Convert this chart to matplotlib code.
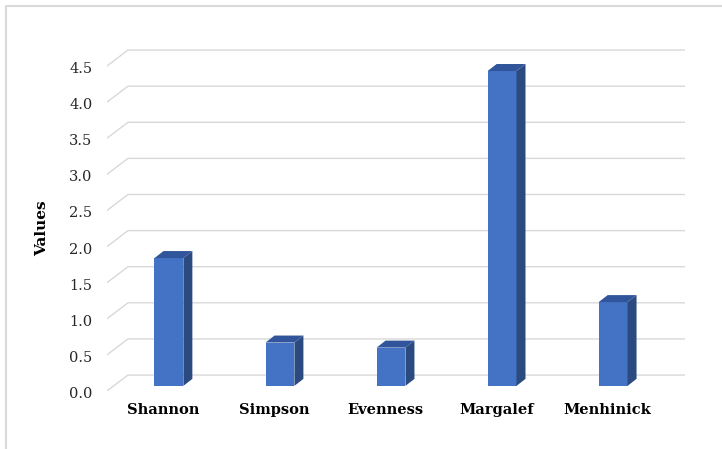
import numpy as np
import matplotlib.pyplot as plt
from matplotlib.patches import Polygon
from matplotlib.lines import Line2D

# data
categories = ['Shannon', 'Simpson', 'Evenness', 'Margalef', 'Menhinick']
values = [1.77, 0.60, 0.53, 4.36, 1.16]
ticks = [0.0, 0.5, 1.0, 1.5, 2.0, 2.5, 3.0, 3.5, 4.0, 4.5]

fig = plt.figure(figsize=(7.22, 4.49), dpi=100)
ax = fig.add_axes([0.148, 0.129, 0.801, 0.782])
ax.set_xlim(-0.559, 4.649)
ax.set_ylim(-0.222, 4.64)
ax.axis('off')

# fake 3d wall: gridlines with a slanted left end
front_off = 0.222
for t in ticks:
    ax.plot([-0.559, -0.369, 4.649], [t - front_off, t, t],
            color='#d9d9d9', lw=1.0, zorder=1, solid_capstyle='butt')
    ax.text(-0.69, t - front_off - 0.04, f'{t:.1f}', ha='right', va='center',
            fontsize=10.5, family='DejaVu Serif', color='#262626')

# bars: front face + side + top
w = 0.26
bar_off = 0.15     # front of bars sits below the back wall baseline
dx = 0.081         # depth in x units
dy = 0.097         # depth in value units
for i, v in enumerate(values):
    x0 = i - w / 2
    x1 = i + w / 2
    yb = -bar_off
    yt = v - bar_off
    ax.add_patch(Polygon([(x0, yb), (x1, yb), (x1, yt), (x0, yt)],
                         closed=True, fc='#4472c4', ec='none', zorder=3))
    ax.add_patch(Polygon([(x1, yb), (x1 + dx, yb + dy), (x1 + dx, yt + dy), (x1, yt)],
                         closed=True, fc='#2b4a80', ec='none', zorder=3))
    ax.add_patch(Polygon([(x0, yt), (x1, yt), (x1 + dx, yt + dy), (x0 + dx, yt + dy)],
                         closed=True, fc='#30559a', ec='none', zorder=3))
    ax.text(i - 0.05, -0.48, categories[i], ha='center', va='center',
            fontsize=10.5, fontweight='bold', family='DejaVu Serif', color='#000000')

fig.text(42 / 722, 1 - 228 / 449, 'Values', rotation=90, ha='center', va='center',
         fontsize=11, fontweight='bold', family='DejaVu Serif')

# chart border (top and left)
fig.add_artist(Line2D([5.5 / 722, 5.5 / 722, 1.0], [0.0, 1 - 5.5 / 449, 1 - 5.5 / 449],
                      transform=fig.transFigure, color='#d9d9d9', lw=1.5))

fig.savefig('out.png', dpi=100)
